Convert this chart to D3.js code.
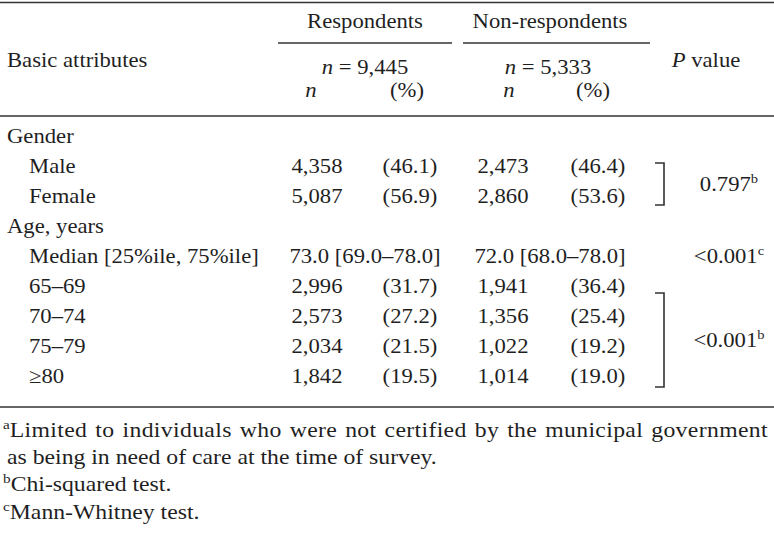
<!DOCTYPE html>
<html>
<head>
<meta charset="utf-8">
<script src="https://cdn.jsdelivr.net/npm/d3@7"></script>
<style>
  html, body { margin: 0; padding: 0; background: #fff; }
  svg text { font-family: "Liberation Serif", "Times New Roman", serif; fill: #1f1f1f; }
</style>
</head>
<body>
<svg id="chart" width="774" height="534"></svg>
<script>
// ---- data ----
const rowLabels = ["Gender", "Male", "Female", "Age, years", "Median [25%ile, 75%ile]", "65–69", "70–74", "75–79", "≥80"];
const rowIsGroup = [true, false, false, true, false, false, false, false, false];
const respN   = [null, 4358, 5087, null, null, 2996, 2573, 2034, 1842];
const respPct = [null, 46.1, 56.9, null, null, 31.7, 27.2, 21.5, 19.5];
const nonN    = [null, 2473, 2860, null, null, 1941, 1356, 1022, 1014];
const nonPct  = [null, 46.4, 53.6, null, null, 36.4, 25.4, 19.2, 19.0];
const respMedian = "73.0 [69.0–78.0]";
const nonMedian  = "72.0 [68.0–78.0]";
const totals = { resp: "9,445", non: "5,333" };
const pValues = [
  { rows: ["Male", "Female"], value: "0.797", sup: "b" },
  { rows: ["65–69", "≥80"], value: "<0.001", sup: "b" }
];
const medianP = { value: "<0.001", sup: "c" };
const footnotes = [
  { sup: "a", text: "Limited to individuals who were not certified by the municipal government", justify: true },
  { sup: "", text: "as being in need of care at the time of survey." },
  { sup: "b", text: "Chi-squared test." },
  { sup: "c", text: "Mann-Whitney test." }
];

// ---- layout ----
const svg = d3.select("#chart");
const FS = 21, SX = 1.08, SUPFS = 13.5, FSX = 1.13;
const lineColor = "#333";
const y = d3.scalePoint().domain(rowLabels).range([143, 383]);
const col = { label: 7, indent: 29, rN: 317, rP: 410, nN: 503, nP: 598, rMed: 365, nMed: 550, p: 729 };

function hline(x1, x2, yy, w) {
  svg.append("line").attr("x1", x1).attr("x2", x2).attr("y1", yy).attr("y2", yy)
    .attr("stroke", lineColor).attr("stroke-width", w || 1.5);
}
function mk(x, yy, anchor, sx) {
  return svg.append("text").attr("x", 0).attr("y", 0)
    .attr("transform", `translate(${x},${yy}) scale(${sx || SX},1)`)
    .attr("font-size", FS).attr("text-anchor", anchor || "start");
}
function text(x, yy, s, anchor, italic) {
  const t = mk(x, yy, anchor).text(s);
  if (italic) t.attr("font-style", "italic");
  return t;
}
function supText(x, yy, s, sup, anchor) {
  const t = mk(x, yy, anchor);
  t.append("tspan").text(s);
  t.append("tspan").attr("font-size", SUPFS).attr("dy", -8).text(sup);
  return t;
}

// rules
hline(0, 774, 2.5);
hline(0, 774, 116);
hline(0, 774, 407);
hline(278, 452, 43, 1.3);
hline(463, 650, 43, 1.3);

// header
text(col.rMed, 28, "Respondents", "middle");
text(col.nMed, 28, "Non-respondents", "middle");
text(col.label, 67, "Basic attributes");
const pv = mk(706, 67, "middle");
pv.append("tspan").attr("font-style", "italic").text("P");
pv.append("tspan").text(" value");
[[col.rMed, totals.resp], [col.nMed - 2, totals.non]].forEach(([x, v]) => {
  const t = mk(x, 74, "middle");
  t.append("tspan").attr("font-style", "italic").text("n");
  t.append("tspan").text(" = " + v);
});
text(col.rN - 6, 97, "n", "middle", true);
text(col.rP - 3, 97, "(%)", "middle");
text(col.nN + 6, 97, "n", "middle", true);
text(col.nP - 5, 97, "(%)", "middle");

// body rows
const fmtN = d3.format(",");
const fmtP = d3.format(".1f");
rowLabels.forEach((lab, i) => {
  const yy = y(lab);
  text(rowIsGroup[i] ? col.label : col.indent, yy, lab);
  if (respN[i] != null) text(col.rN, yy, fmtN(respN[i]), "middle");
  if (respPct[i] != null) text(col.rP, yy, "(" + fmtP(respPct[i]) + ")", "middle");
  if (nonN[i] != null) text(col.nN, yy, fmtN(nonN[i]), "middle");
  if (nonPct[i] != null) text(col.nP, yy, "(" + fmtP(nonPct[i]) + ")", "middle");
});
const medRow = "Median [25%ile, 75%ile]";
text(col.rMed, y(medRow), respMedian, "middle");
text(col.nMed, y(medRow), nonMedian, "middle");
supText(col.p, y(medRow), medianP.value, medianP.sup, "middle");

// brackets + p values
pValues.forEach((p, k) => {
  const top = k === 0 ? y(p.rows[0]) - 10 : y(p.rows[0]);
  const bot = y(p.rows[1]) + (k === 0 ? 2 : 4);
  const bx = 664;
  svg.append("path")
    .attr("d", `M${bx - 9},${top}H${bx}V${bot}H${bx - 9}`)
    .attr("fill", "none").attr("stroke", lineColor).attr("stroke-width", 1.6);
  supText(col.p, (top + bot) / 2 + 7, p.value, p.sup, "middle");
});

// footnotes
footnotes.forEach((f, i) => {
  const t = mk(3, 437 + i * 27.2, "start", FSX);
  if (f.sup) t.append("tspan").attr("font-size", SUPFS).attr("dy", -8).text(f.sup);
  const main = t.append("tspan").attr("dy", f.sup ? 8 : 0).text(f.text);
  if (!f.sup) main.attr("x", 4 / FSX);
  if (f.justify) {
    const len = t.node().getComputedTextLength();
    const target = (768 - 3) / FSX;
    const extra = Math.max(0, target - len);
    const spaces = (f.text.match(/ /g) || []).length;
    const chars = f.text.length;
    main.attr("letter-spacing", (extra * 0.6) / chars);
    t.attr("word-spacing", (extra * 0.4) / spaces);
  }
});
</script>
</body>
</html>
